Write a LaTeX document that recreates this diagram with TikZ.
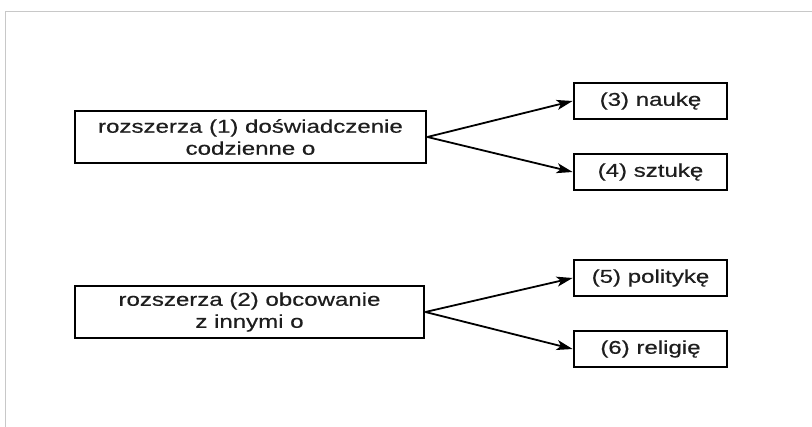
\documentclass[tikz,border=0pt]{standalone}
\usepackage{fontspec}
\setmainfont{Liberation Sans}
\newfontfamily\widefont[FakeStretch=1.3,FakeBold=0.5]{Liberation Sans}
\usetikzlibrary{arrows.meta}
\definecolor{framegray}{RGB}{200,200,200}
\definecolor{inkgray}{RGB}{30,30,30}
\begin{document}
\begin{tikzpicture}[x=1pt,y=-1pt,
  box/.style={draw=black,line width=2.8pt,fill=white,inner sep=0pt,align=center,
    text=inkgray,font=\widefont\fontsize{18.5}{22}\selectfont},
  conn/.style={line width=1.8pt,-{Stealth[length=16pt,width=10pt,inset=4pt]}}]
\useasboundingbox (0,0) rectangle (812,427);
\fill[white] (0,0) rectangle (812,427);
\draw[framegray,line width=1pt] (5,427) -- (5,12) -- (812,12);
% left boxes
\node[box,minimum width=351pt,minimum height=52pt] (a) at (250.5,137) {rozszerza (1) doświadczenie\\codzienne o};
\node[box,minimum width=349pt,minimum height=52pt] (b) at (249.5,312) {rozszerza (2) obcowanie\\z innymi o};
% right boxes
\node[box,minimum width=153pt,minimum height=36pt] (c) at (650.5,101) {(3) naukę};
\node[box,minimum width=153pt,minimum height=36pt] (d) at (650.5,172) {(4) sztukę};
\node[box,minimum width=153pt,minimum height=36pt] (e) at (650.5,278) {(5) politykę};
\node[box,minimum width=153pt,minimum height=36pt] (f) at (650.5,349) {(6) religię};
\draw[conn] (a.east) -- (c.west);
\draw[conn] (a.east) -- (d.west);
\draw[conn] (b.east) -- (e.west);
\draw[conn] (b.east) -- (f.west);
\end{tikzpicture}
\end{document}
